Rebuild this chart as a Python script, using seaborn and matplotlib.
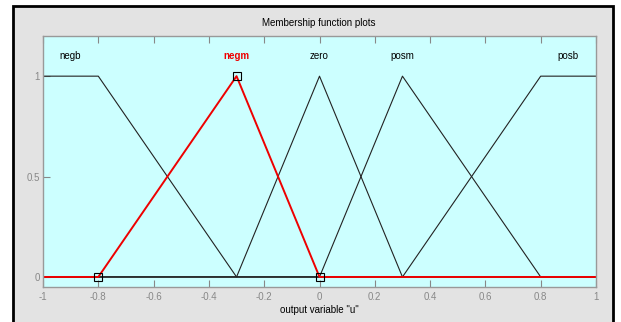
import numpy as np
import pandas as pd
import seaborn as sns
import matplotlib
matplotlib.use("Agg")
import matplotlib.pyplot as plt
from matplotlib.patches import Rectangle

# Membership functions of output variable "u"
mf_names = ["negb", "negm", "zero", "posm", "posb"]
mf_x = [
    [-1.0, -0.8, -0.3, 1.0],
    [-1.0, -0.8, -0.3, 0.0, 1.0],
    [-1.0, -0.3, 0.0, 0.3, 1.0],
    [-1.0, 0.0, 0.3, 0.8, 1.0],
    [-1.0, 0.3, 0.8, 1.0],
]
mf_y = [
    [1.0, 1.0, 0.0, 0.0],
    [0.0, 0.0, 1.0, 0.0, 0.0],
    [0.0, 0.0, 1.0, 0.0, 0.0],
    [0.0, 0.0, 1.0, 0.0, 0.0],
    [0.0, 0.0, 1.0, 1.0],
]
label_x = [-0.9, -0.3, 0.0, 0.3, 0.9]
selected = "negm"
selected_vertices_x = [-0.8, -0.3, 0.0]
selected_vertices_y = [0.0, 1.0, 0.0]
x_ticks = [-1, -0.8, -0.6, -0.4, -0.2, 0, 0.2, 0.4, 0.6, 0.8, 1]
x_tick_labels = ["-1", "-0.8", "-0.6", "-0.4", "-0.2", "0", "0.2", "0.4", "0.6", "0.8", "1"]
y_ticks = [0, 0.5, 1]
y_tick_labels = ["0", "0.5", "1"]

rows = []
for name, xs, ys in zip(mf_names, mf_x, mf_y):
    for i, (xv, yv) in enumerate(zip(xs, ys)):
        rows.append({"mf": name, "order": i, "u": xv, "mu": yv})
df = pd.DataFrame(rows)

sns.set_theme(style="white")
plt.rcParams["font.family"] = ["Liberation Sans", "DejaVu Sans"]

W, H = 621, 322
fig = plt.figure(figsize=(W / 100, H / 100), dpi=100)
fig.patch.set_facecolor("white")

# grey panel with a dark frame, kept behind the axes
fig.patches.append(Rectangle((12.5 / W, -0.05), (613 - 12.5) / W, (H - 5.5) / H + 0.05,
                             transform=fig.transFigure, facecolor="#e3e3e3",
                             edgecolor="black", linewidth=2.0, zorder=-10))

ax = fig.add_axes([43 / W, 1 - 287 / H, (596 - 43) / W, (287 - 36) / H])
ax.set_zorder(1)
ax.set_facecolor("#ccffff")

other = df[df["mf"] != selected]
sns.lineplot(data=other, x="u", y="mu", units="mf", estimator=None, sort=False,
             color="#222222", linewidth=0.8, ax=ax, legend=False)
sns.lineplot(data=df[df["mf"] == selected], x="u", y="mu", estimator=None, sort=False,
             color="#ee0000", linewidth=1.4, ax=ax, legend=False)
ax.plot(selected_vertices_x, selected_vertices_y, linestyle="none", marker="s",
        markersize=6, markerfacecolor="none", markeredgecolor="black",
        markeredgewidth=0.8, zorder=5)

for name, lx in zip(mf_names, label_x):
    is_sel = name == selected
    ax.text(lx, 1.1, name, ha="center", va="center", fontsize=7,
            color="#ee0000" if is_sel else "black",
            fontweight="bold" if is_sel else "normal")

ax.set_xlim(-1, 1)
ax.set_ylim(-0.05, 1.2)
ax.set_xticks(x_ticks)
ax.set_xticklabels(x_tick_labels)
ax.set_yticks(y_ticks)
ax.set_yticklabels(y_tick_labels)
ax.tick_params(axis="both", direction="in", length=5, width=0.8, color="#888888",
               labelcolor="#888888", labelsize=7, top=True, bottom=True,
               left=True, right=False)
ax.tick_params(axis="x", pad=3.5)
ax.tick_params(axis="y", pad=2.5)
for s in ax.spines.values():
    s.set_color("#999999")
    s.set_linewidth(1.0)

ax.set_xlabel('output variable "u"', fontsize=7, color="black", labelpad=2)
ax.set_ylabel("")
fig.text(319 / W, 1 - 23 / H, "Membership function plots", ha="center", va="center",
         fontsize=7, color="black")

fig.savefig("out.png", dpi=100, facecolor=fig.get_facecolor())
